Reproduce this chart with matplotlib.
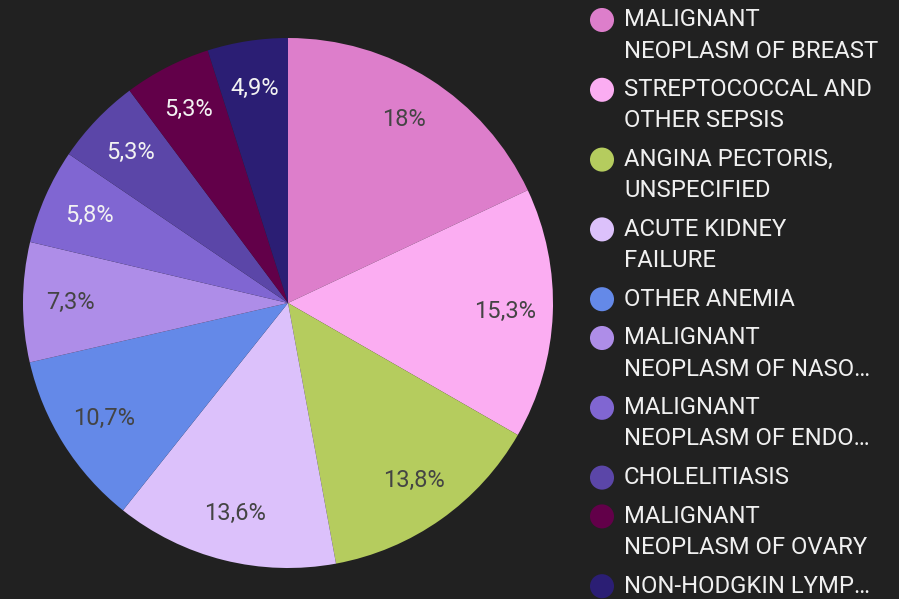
import matplotlib.pyplot as plt

plt.rcParams['font.family'] = ['Roboto', 'DejaVu Sans']

labels = ["MALIGNANT\nNEOPLASM OF BREAST", "STREPTOCOCCAL AND\nOTHER SEPSIS",
          "ANGINA PECTORIS,\nUNSPECIFIED", "ACUTE KIDNEY\nFAILURE", "OTHER ANEMIA",
          "MALIGNANT\nNEOPLASM OF NASO\u2026", "MALIGNANT\nNEOPLASM OF ENDO\u2026",
          "CHOLELITIASIS", "MALIGNANT\nNEOPLASM OF OVARY", "NON-HODGKIN LYMP\u2026"]
values = [18, 15.3, 13.8, 13.6, 10.7, 7.3, 5.8, 5.3, 5.3, 4.9]
colors = ['#dd7ecb', '#fbadf2', '#b5cc5e', '#dcc1fb', '#6489e8',
          '#ae8de8', '#8066d2', '#5b46a8', '#620049', '#2b1e74']
label_colors = ['#444444'] * 6 + ['#f2f2f2'] * 4

bg = '#212121'
fig = plt.figure(figsize=(8.99, 5.99), dpi=100, facecolor=bg)

# pie: center (288, 303), radius 265 px
ax = fig.add_axes([23 / 899, 31 / 599, 530 / 899, 530 / 599])
ax.set_facecolor(bg)
wedges, texts, autotexts = ax.pie(values, colors=colors, startangle=90, counterclock=False,
                                  autopct=lambda p: ('%.1f%%' % p).replace('.0%', '%').replace('.', ','),
                                  pctdistance=0.82, wedgeprops={'linewidth': 0})
for t, c in zip(autotexts, label_colors):
    t.set_color(c)
    t.set_fontsize(17)
ax.set_xlim(-1, 1)
ax.set_ylim(-1, 1)
ax.set_aspect('equal')

# legend drawn by hand in pixel coordinates
lx = fig.add_axes([0, 0, 1, 1])
lx.set_xlim(0, 899)
lx.set_ylim(599, 0)
lx.axis('off')
lx.patch.set_alpha(0)

y = 20
for lab, col in zip(labels, colors):
    lx.scatter(602, y, s=300, color=col, edgecolors='none')
    lines = lab.split('\n')
    for k, line in enumerate(lines):
        lx.text(624, y + 31 * k, line, color='#f0f0f0', fontsize=17.2, va='center', ha='left')
    y += 31 * (len(lines) - 1) + 38.8

fig.savefig('out.png', dpi=100, facecolor=bg)
